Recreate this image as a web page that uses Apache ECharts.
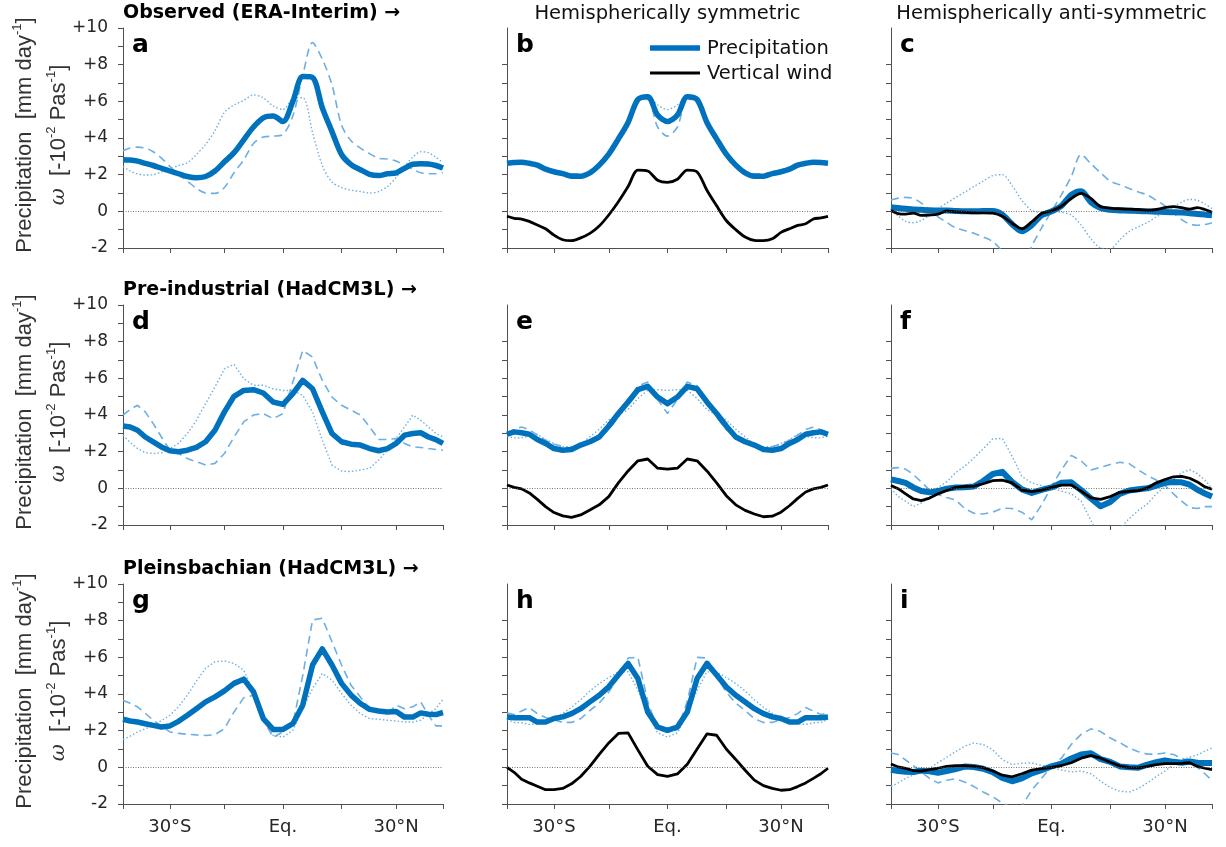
<!DOCTYPE html>
<html>
<head>
<meta charset="utf-8">
<title>Zonal-mean precipitation and vertical wind</title>
<script src="https://cdn.jsdelivr.net/npm/echarts@6/dist/echarts.min.js"></script>
<style>
  html, body { margin: 0; padding: 0; background: #ffffff; }
  #chart { width: 1226px; height: 847px; }
</style>
</head>
<body>
<div id="chart"></div>
<script>
// Latitude grid (degrees); the x axis is area-weighted (sine of latitude)
const LAT = [-45,-42.5,-40,-37.5,-35,-32.5,-30,-27.5,-25,-22.5,-20,-17.5,-15,-12.5,-10,-7.5,-5,-2.5,0,2.5,5,7.5,10,12.5,15,17.5,20,22.5,25,27.5,30,32.5,35,37.5,40,42.5,45];

// Row 1: observed (ERA-Interim)
const A_MEAN = [2.82,2.8,2.74,2.62,2.5,2.35,2.2,2.05,1.9,1.83,1.9,2.2,2.7,3.2,3.9,4.6,5.1,5.2,4.9,6.0,7.35,7.3,5.65,4.35,3.1,2.55,2.27,2.02,1.95,2.05,2.1,2.35,2.57,2.6,2.58,2.5,2.36];
const A_DASH = [3.3,3.45,3.5,3.45,3.25,2.9,2.45,2.0,1.65,1.25,1.0,0.98,1.3,2.1,2.8,3.7,4.05,4.1,4.2,5.2,7.4,9.2,8.3,6.9,4.7,3.85,3.45,3.15,2.9,2.85,2.75,2.5,2.3,2.1,2.05,2.05,2.1];
const A_DOT  = [2.45,2.2,2.05,1.98,2.0,2.15,2.3,2.5,2.65,3.1,3.65,4.4,5.4,5.8,6.05,6.35,6.2,5.75,5.55,6.15,6.2,4.3,2.5,1.6,1.3,1.15,1.08,1.0,1.08,1.35,1.85,2.45,2.95,3.25,3.2,2.95,2.65];

const B_MEAN  = [2.62,2.66,2.68,2.62,2.52,2.3,2.16,2.06,1.92,1.92,2.1,2.52,3.12,3.95,4.85,6.1,6.25,5.25,4.9,5.25,6.25,6.1,4.85,3.95,3.12,2.52,2.1,1.92,1.92,2.06,2.16,2.3,2.52,2.62,2.68,2.66,2.62];
const B_DASH  = [2.65,2.7,2.72,2.68,2.58,2.4,2.25,2.15,2.05,2.05,2.15,2.5,3.05,3.85,4.8,6.1,6.1,4.6,4.1,4.6,6.1,6.1,4.8,3.85,3.05,2.5,2.15,2.05,2.05,2.15,2.25,2.4,2.58,2.68,2.72,2.7,2.65];
const B_DOT   = [2.55,2.6,2.62,2.6,2.5,2.35,2.2,2.05,1.95,1.98,2.1,2.45,3.0,3.75,4.65,5.95,6.25,5.8,5.55,5.8,6.25,5.95,4.65,3.75,3.0,2.45,2.1,1.98,1.95,2.05,2.2,2.35,2.5,2.6,2.62,2.6,2.55];
const B_OMEGA = [-0.27,-0.38,-0.42,-0.55,-0.75,-0.95,-1.3,-1.55,-1.6,-1.45,-1.2,-0.8,-0.2,0.52,1.35,2.25,2.2,1.7,1.58,1.75,2.25,2.15,1.15,0.3,-0.5,-1.0,-1.4,-1.58,-1.6,-1.5,-1.15,-0.95,-0.77,-0.68,-0.42,-0.36,-0.27];

const C_MEAN  = [0.22,0.18,0.14,0.1,0.08,0.06,0.05,0.05,0.02,0.0,0.0,0.02,0.02,-0.18,-0.7,-1.08,-0.75,-0.22,0.0,0.3,0.9,1.1,0.5,0.18,0.08,0.05,0.03,0.02,0.0,-0.02,-0.03,-0.05,-0.07,-0.1,-0.14,-0.18,-0.22];
const C_DASH  = [0.62,0.72,0.76,0.7,0.45,0.1,-0.3,-0.6,-0.9,-1.05,-1.2,-1.4,-1.65,-2.15,-2.6,-3.1,-1.9,-0.9,0.0,0.9,1.9,3.1,2.6,2.1,1.65,1.45,1.25,1.05,0.9,0.6,0.3,-0.1,-0.45,-0.7,-0.76,-0.72,-0.62];
const C_DOT   = [0.12,-0.25,-0.55,-0.62,-0.5,-0.2,0.15,0.45,0.75,1.05,1.35,1.65,1.95,2.0,1.4,0.6,0.05,-0.05,0.0,-0.05,-0.2,-0.75,-1.5,-2.0,-2.05,-1.55,-1.1,-0.85,-0.6,-0.3,-0.05,0.25,0.5,0.65,0.6,0.4,0.15];
const C_OMEGA = [0.05,-0.12,-0.15,-0.1,-0.22,-0.2,-0.15,0.02,-0.03,-0.05,-0.08,-0.08,-0.1,-0.27,-0.65,-0.95,-0.58,-0.12,0.02,0.28,0.7,0.98,0.7,0.25,0.18,0.14,0.12,0.1,0.05,0.1,0.2,0.26,0.2,0.12,0.2,0.1,-0.05];

// Row 2: pre-industrial (HadCM3L)
const D_MEAN = [3.4,3.35,3.17,2.8,2.54,2.26,2.05,2.0,2.08,2.23,2.54,3.17,4.17,5.02,5.34,5.38,5.2,4.71,4.58,5.16,5.89,5.43,4.17,2.99,2.54,2.41,2.36,2.17,2.05,2.17,2.45,2.9,2.99,3.03,2.8,2.66,2.45];
const D_DASH = [4.0,4.3,4.53,4.17,3.53,2.8,2.08,1.9,1.63,1.45,1.27,1.36,1.9,2.8,3.62,4.0,4.08,3.8,4.08,5.8,7.52,7.16,5.89,4.98,4.53,4.26,4.0,3.35,2.66,2.66,2.72,2.45,2.26,2.23,2.17,2.12,2.08];
const D_DOT  = [2.9,2.5,2.17,1.95,1.9,1.94,2.17,2.45,2.99,3.71,4.62,5.53,6.52,6.76,5.98,5.62,5.62,5.43,5.34,5.34,5.07,4.17,2.63,1.27,0.94,0.91,1.0,1.09,1.54,2.08,2.72,3.35,4.0,3.71,3.35,2.99,2.81];

const E_MEAN  = [2.95,3.08,3.03,2.95,2.66,2.45,2.17,2.08,2.12,2.36,2.54,2.8,3.4,4.08,4.71,5.38,5.56,4.98,4.62,4.98,5.56,5.43,4.71,4.08,3.4,2.8,2.54,2.36,2.12,2.08,2.17,2.45,2.66,2.95,3.03,3.08,2.95];
const E_DASH  = [3.04,3.2,3.35,3.2,2.9,2.62,2.4,2.28,2.15,2.4,2.63,2.81,3.2,3.89,4.75,5.58,5.8,4.85,4.08,4.85,5.8,5.58,4.75,3.89,3.2,2.81,2.63,2.4,2.15,2.28,2.4,2.62,2.9,3.2,3.35,3.2,3.04];
const E_DOT   = [2.85,2.75,2.76,2.85,2.95,2.65,2.45,2.27,2.27,2.4,2.81,3.22,3.73,4.0,4.3,4.9,5.35,5.38,5.34,5.38,5.35,4.9,4.3,4.0,3.73,3.22,2.81,2.4,2.27,2.27,2.45,2.65,2.95,2.85,2.76,2.75,2.85];
const E_OMEGA = [0.18,0.05,-0.03,-0.25,-0.6,-1.0,-1.32,-1.5,-1.58,-1.45,-1.18,-0.9,-0.45,0.3,0.95,1.5,1.6,1.1,1.05,1.1,1.6,1.5,0.95,0.3,-0.4,-0.9,-1.2,-1.4,-1.55,-1.52,-1.3,-0.95,-0.55,-0.2,-0.03,0.05,0.18];

const F_MEAN  = [0.49,0.4,0.3,0.05,-0.15,-0.22,-0.15,-0.02,0.04,0.06,0.1,0.4,0.78,0.9,0.35,-0.06,-0.25,-0.08,0.05,0.3,0.33,-0.1,-0.55,-0.98,-0.75,-0.3,-0.12,-0.05,0.0,0.15,0.3,0.35,0.33,0.2,-0.08,-0.28,-0.45];
const F_DASH  = [1.09,1.13,1.05,0.75,0.35,-0.1,-0.33,-0.5,-0.63,-1.1,-1.36,-1.4,-1.3,-1.08,-1.1,-1.3,-1.72,-0.9,0.1,1.0,1.8,1.5,1.0,1.15,1.3,1.42,1.35,1.0,0.7,0.45,0.15,-0.3,-0.7,-1.05,-1.1,-1.0,-1.0];
const F_DOT   = [0.0,-0.45,-0.7,-1.0,-0.8,-0.5,0.05,0.35,0.85,1.2,1.65,2.15,2.7,2.72,1.75,0.65,0.3,0.15,0.0,-0.15,-0.3,-0.7,-1.75,-2.8,-2.75,-2.2,-1.65,-1.2,-0.85,-0.3,0.1,0.5,0.85,1.02,0.8,0.45,0.0];
const F_OMEGA = [0.15,-0.02,-0.3,-0.58,-0.67,-0.53,-0.3,-0.12,0.05,0.1,0.12,0.25,0.42,0.45,0.3,-0.1,-0.18,-0.1,0.05,0.18,0.18,-0.15,-0.52,-0.6,-0.45,-0.22,-0.16,-0.12,0.02,0.3,0.48,0.63,0.65,0.55,0.35,0.08,-0.05];

// Row 3: Pliensbachian (HadCM3L)
const G_MEAN = [2.62,2.53,2.47,2.38,2.29,2.2,2.26,2.51,2.84,3.2,3.57,3.84,4.17,4.58,4.81,4.12,2.66,2.07,2.07,2.38,3.39,5.58,6.46,5.58,4.58,3.94,3.48,3.16,3.07,3.02,3.05,2.74,2.74,2.97,2.9,2.88,2.99];
const G_DASH = [3.66,3.5,3.3,2.95,2.57,2.25,1.93,1.85,1.8,1.77,1.74,1.78,2.11,3.02,3.79,3.93,2.6,1.64,1.93,2.38,5.0,8.04,8.13,6.85,5.58,4.48,3.84,3.2,3.02,2.93,3.39,3.2,3.3,3.57,2.84,2.26,2.26];
const G_DOT  = [1.52,1.7,1.93,2.1,2.29,2.55,2.84,3.3,3.94,4.7,5.4,5.76,5.8,5.67,5.3,4.12,2.66,1.74,1.65,2.02,3.2,4.3,5.12,4.76,4.03,3.39,2.93,2.66,2.62,2.57,2.53,2.47,2.47,2.57,2.93,3.2,3.71];

const H_MEAN  = [2.75,2.71,2.71,2.71,2.47,2.47,2.66,2.75,2.93,3.2,3.57,3.93,4.39,5.03,5.67,4.85,3.02,2.2,2.02,2.2,3.02,4.85,5.67,5.03,4.39,3.93,3.57,3.2,2.93,2.75,2.66,2.47,2.47,2.71,2.71,2.71,2.75];
const H_DASH  = [2.96,2.88,3.07,3.26,2.93,2.72,2.6,2.45,2.45,2.65,3.1,3.5,4.1,4.94,5.96,6.0,3.6,2.05,1.93,2.05,3.6,6.0,5.96,4.94,4.1,3.5,3.1,2.65,2.45,2.45,2.6,2.72,2.93,3.26,3.07,2.88,2.96];
const H_DOT   = [2.61,2.45,2.43,2.34,2.38,2.51,2.69,2.94,3.28,3.68,4.17,4.57,4.9,5.2,5.21,4.21,2.93,1.88,1.65,1.88,2.93,4.21,5.21,5.2,4.9,4.57,4.17,3.68,3.28,2.94,2.69,2.51,2.38,2.34,2.43,2.45,2.61];
const H_OMEGA = [0.0,-0.27,-0.65,-0.85,-1.03,-1.22,-1.22,-1.15,-0.9,-0.5,0.05,0.71,1.33,1.85,1.88,0.95,0.06,-0.4,-0.49,-0.36,0.17,1.0,1.82,1.75,1.0,0.43,-0.16,-0.7,-1.0,-1.15,-1.25,-1.22,-1.05,-0.85,-0.6,-0.35,-0.05];

const I_MEAN  = [-0.13,-0.2,-0.24,-0.25,-0.18,-0.22,-0.3,-0.2,-0.1,0.04,0.02,-0.08,-0.27,-0.58,-0.76,-0.6,-0.33,-0.15,0.05,0.2,0.48,0.7,0.77,0.45,0.3,0.05,0.0,-0.02,0.15,0.28,0.38,0.3,0.25,0.32,0.25,0.24,0.24];
const I_DASH  = [0.78,0.7,0.4,0.1,-0.25,-0.6,-0.85,-0.7,-0.62,-0.8,-1.05,-1.35,-1.6,-1.95,-2.2,-2.1,-1.25,-0.6,0.05,0.5,1.25,1.8,2.1,1.95,1.6,1.35,1.05,0.85,0.72,0.72,0.78,0.7,0.5,0.35,0.0,-0.35,-0.72];
const I_DOT   = [-1.04,-0.85,-0.6,-0.42,-0.25,-0.05,0.26,0.55,0.85,1.15,1.33,1.24,0.96,0.42,0.15,0.22,0.24,0.1,0.0,-0.15,-0.25,-0.2,-0.35,-0.75,-1.1,-1.3,-1.35,-1.15,-0.85,-0.5,-0.2,0.15,0.4,0.55,0.68,0.88,1.06];
const I_OMEGA = [0.18,0.02,-0.06,-0.18,-0.2,-0.13,-0.05,0.05,0.09,0.09,0.05,-0.02,-0.2,-0.43,-0.52,-0.35,-0.15,-0.07,0.0,0.1,0.25,0.5,0.64,0.5,0.28,0.08,-0.02,-0.03,0.05,0.15,0.2,0.2,0.22,0.25,0.05,-0.05,-0.13];

// Axis ticks and labels
const X_TICK_LATS  = [-45, -30, -15, 0, 15, 30, 45];
const X_LABEL_LATS = [-30, 0, 30];
const X_LABELS     = ['30°S', 'Eq.', '30°N'];
const Y_MIN = -2, Y_MAX = 10;

// Texts
const ROW_TITLES = ['Observed (ERA-Interim) \u2192', 'Pre-industrial (HadCM3L) \u2192', 'Pleinsbachian (HadCM3L) \u2192'];
const COL_TITLES = ['', 'Hemispherically symmetric', 'Hemispherically anti-symmetric'];
const LETTERS = ['a', 'b', 'c', 'd', 'e', 'f', 'g', 'h', 'i'];
const LEGEND_NAMES = ['Precipitation', 'Vertical wind'];

const PANELS = [
  { mean: A_MEAN, dash: A_DASH, dot: A_DOT, omega: null },
  { mean: B_MEAN, dash: B_DASH, dot: B_DOT, omega: B_OMEGA },
  { mean: C_MEAN, dash: C_DASH, dot: C_DOT, omega: C_OMEGA },
  { mean: D_MEAN, dash: D_DASH, dot: D_DOT, omega: null },
  { mean: E_MEAN, dash: E_DASH, dot: E_DOT, omega: E_OMEGA },
  { mean: F_MEAN, dash: F_DASH, dot: F_DOT, omega: F_OMEGA },
  { mean: G_MEAN, dash: G_DASH, dot: G_DOT, omega: null },
  { mean: H_MEAN, dash: H_DASH, dot: H_DOT, omega: H_OMEGA },
  { mean: I_MEAN, dash: I_DASH, dot: I_DOT, omega: I_OMEGA }
];

// Layout
const COL_LEFT = [123, 507, 891];
const COL_W = [320, 321, 321];
const ROW_TOP = [28, 305, 584];
const ROW_H = 220;

const BLUE = '#0072BD';
const LIGHT = '#6EAFE2';
const AXIS = '#505050';
const TEXT = '#262626';
const SANS = 'DejaVu Sans';

const sinDeg = lat => Math.sin(lat * Math.PI / 180);
const XMAX = sinDeg(45);
const toPoints = vals => LAT.map((lat, i) => [sinDeg(lat), vals[i]]);

const grid = [], xAxis = [], yAxis = [], series = [];

PANELS.forEach((p, k) => {
  const r = Math.floor(k / 3), c = k % 3;
  grid.push({ left: COL_LEFT[c], top: ROW_TOP[r], width: COL_W[c], height: ROW_H,
              containLabel: false, outerBoundsMode: 'none' });

  xAxis.push({
    gridIndex: k, type: 'value', min: -XMAX, max: XMAX,
    axisLine: { show: true, onZero: false, lineStyle: { color: AXIS, width: 1 } },
    axisTick: { show: true, length: 5, customValues: X_TICK_LATS.map(sinDeg), lineStyle: { color: AXIS } },
    axisLabel: {
      show: r === 2, customValues: X_LABEL_LATS.map(sinDeg), margin: 14,
      fontFamily: SANS, fontSize: 18, color: TEXT,
      formatter: v => {
        const lat = Math.round(Math.asin(v) * 180 / Math.PI);
        const i = X_LABEL_LATS.indexOf(lat);
        return i >= 0 ? X_LABELS[i] : '';
      }
    },
    splitLine: { show: false }
  });

  const yTicks = [];
  for (let v = Y_MIN; v <= (c === 0 ? Y_MAX : 8); v++) yTicks.push(v);
  yAxis.push({
    gridIndex: k, type: 'value', min: Y_MIN, max: Y_MAX, interval: 1,
    axisLine: { show: true, onZero: false, lineStyle: { color: AXIS, width: 1 } },
    axisTick: { show: true, length: 5, customValues: yTicks, lineStyle: { color: AXIS } },
    axisLabel: {
      show: c === 0, margin: 15, fontFamily: SANS, fontSize: 17, color: TEXT,
      formatter: v => (v % 2 !== 0) ? '' : (v > 0 ? '+' + v : String(v))
    },
    splitLine: { show: false }
  });

  const smooth = r === 0 ? 0.3 : false;
  const base = { type: 'line', xAxisIndex: k, yAxisIndex: k, showSymbol: false, symbol: 'none',
                 smooth, animation: false, silent: true, clip: true };

  series.push(Object.assign({}, base, {
    name: 'dashed', data: toPoints(p.dash),
    lineStyle: { color: LIGHT, width: 1.6, type: [8, 5] },
    markLine: {
      silent: true, symbol: ['none', 'none'], label: { show: false }, animation: false,
      lineStyle: { color: '#555555', width: 0.8, type: [1, 1.5] },
      data: [{ yAxis: 0 }]
    }
  }));
  series.push(Object.assign({}, base, {
    name: 'dotted', data: toPoints(p.dot),
    lineStyle: { color: LIGHT, width: 1.4, type: [1.5, 2.2] }
  }));
  series.push(Object.assign({}, base, {
    name: LEGEND_NAMES[0], data: toPoints(p.mean),
    lineStyle: { color: BLUE, width: c === 2 ? 6 : 5.5, join: 'round' }
  }));
  if (p.omega) {
    series.push(Object.assign({}, base, {
      name: LEGEND_NAMES[1], data: toPoints(p.omega),
      lineStyle: { color: '#000000', width: 2.8, join: 'round' }
    }));
  }
});

// Titles, panel letters, y-axis titles and legend key
const graphics = [];
const txt = (x, y, text, extra) => Object.assign({
  type: 'text', x, y, silent: true,
  style: Object.assign({ text, fill: '#000', fontFamily: SANS, fontSize: 19,
                         align: 'left', verticalAlign: 'middle',
                         textAlign: 'left', textVerticalAlign: 'middle' }, extra || {})
});

ROW_TITLES.forEach((t, r) => {
  graphics.push(txt(COL_LEFT[0], ROW_TOP[r] - 15, t, { fontWeight: 'bold', fontSize: 19 }));
});
COL_TITLES.forEach((t, c) => {
  if (!t) return;
  graphics.push(txt(COL_LEFT[c] + COL_W[c] / 2, ROW_TOP[0] - 14, t,
    { fontSize: 19.5, align: 'center', textAlign: 'center', fill: '#111' }));
});
LETTERS.forEach((l, k) => {
  const r = Math.floor(k / 3), c = k % 3;
  graphics.push(txt(COL_LEFT[c] + 9, ROW_TOP[r] + 17, l, { fontWeight: 'bold', fontSize: 25 }));
});

const richY = {
  m: { fontFamily: 'Liberation Sans', fontSize: 22, fill: '#333', lineHeight: 28, verticalAlign: 'middle' },
  s: { fontFamily: 'Liberation Sans', fontSize: 13, fill: '#333', lineHeight: 15, verticalAlign: 'top' },
  w: { fontFamily: 'DejaVu Serif', fontStyle: 'italic', fontSize: 21, fill: '#333', lineHeight: 28, verticalAlign: 'middle' }
};
ROW_TOP.forEach(top => {
  const cy = top + ROW_H / 2 - 3;
  graphics.push({
    type: 'text', x: 25, y: cy, rotation: Math.PI / 2, silent: true,
    style: { text: '{m|Precipitation  [mm day}{s|-1}{m|]}', rich: richY,
             align: 'center', verticalAlign: 'middle', textAlign: 'center', textVerticalAlign: 'middle' }
  });
  graphics.push({
    type: 'text', x: 59, y: cy, rotation: Math.PI / 2, silent: true,
    style: { text: '{w|\u03C9}{m|  [-10}{s|-2}{m| Pas}{s|-1}{m|]}', rich: richY,
             align: 'center', verticalAlign: 'middle', textAlign: 'center', textVerticalAlign: 'middle' }
  });
});

// Legend key inside panel b
graphics.push({ type: 'line', silent: true, shape: { x1: 650, y1: 48, x2: 700, y2: 48 },
                style: { stroke: BLUE, lineWidth: 5.5 } });
graphics.push({ type: 'line', silent: true, shape: { x1: 650, y1: 73, x2: 700, y2: 73 },
                style: { stroke: '#000', lineWidth: 2.8 } });
graphics.push(txt(707, 49, LEGEND_NAMES[0], { fontSize: 19.5, fill: '#111' }));
graphics.push(txt(707, 74, LEGEND_NAMES[1], { fontSize: 19.5, fill: '#111' }));

const chart = echarts.init(document.getElementById('chart'), null, { renderer: 'canvas' });
chart.setOption({
  animation: false,
  backgroundColor: '#ffffff',
  grid, xAxis, yAxis, series,
  graphic: { elements: graphics }
});
</script>
</body>
</html>
